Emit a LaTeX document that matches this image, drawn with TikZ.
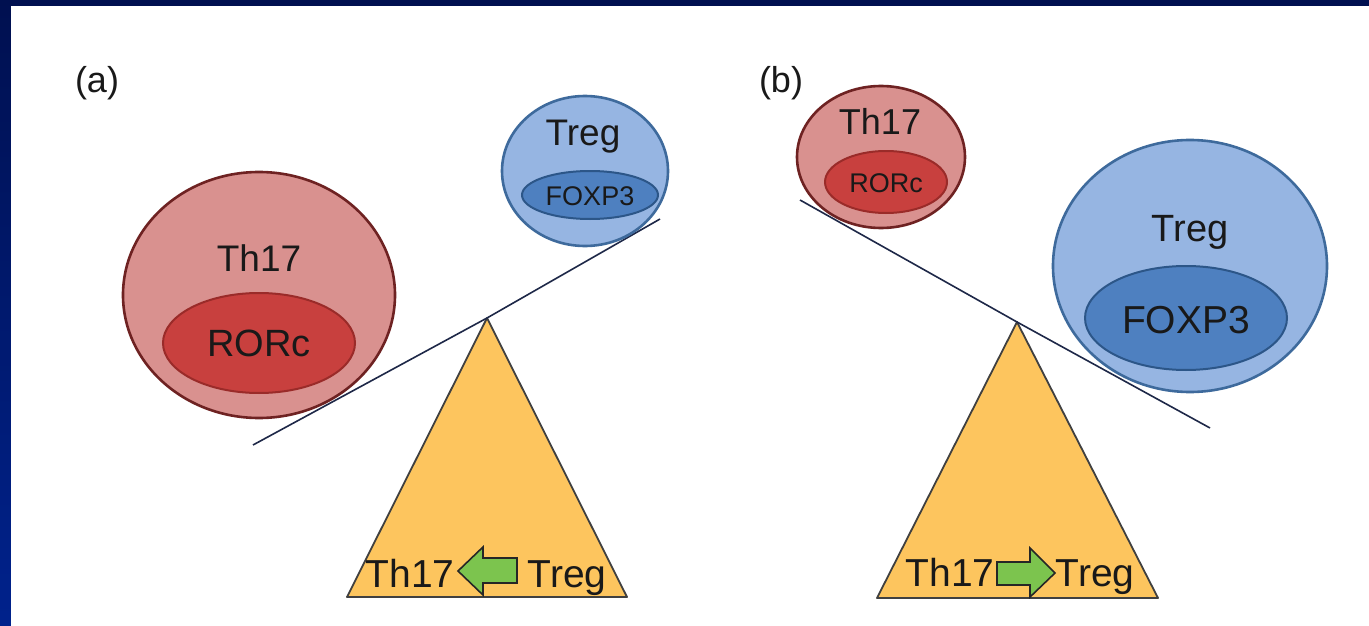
\documentclass[tikz,border=0pt]{standalone}
\usepackage{fontspec}
\setmainfont{Liberation Sans}
\usetikzlibrary{shapes.geometric}
\definecolor{navytop}{HTML}{001050}
\definecolor{navybot}{HTML}{00228C}
\definecolor{thout}{HTML}{D9918F}
\definecolor{thoutb}{HTML}{6E2222}
\definecolor{thin}{HTML}{C8403E}
\definecolor{thinb}{HTML}{9A2B29}
\definecolor{trout}{HTML}{96B5E2}
\definecolor{troutb}{HTML}{3E6A9C}
\definecolor{trin}{HTML}{4E80C0}
\definecolor{trinb}{HTML}{2C5688}
\definecolor{tri}{HTML}{FDC55E}
\definecolor{arrg}{HTML}{7CC44E}
\definecolor{beam}{HTML}{1E2848}
\tikzset{
  x=1pt, y=-1pt,
  cellTh/.style={ellipse, draw=thoutb, fill=thout, line width=2.6pt, inner sep=0pt},
  coreTh/.style={ellipse, draw=thinb, fill=thin, line width=2pt, inner sep=0pt},
  cellTr/.style={ellipse, draw=troutb, fill=trout, line width=2.6pt, inner sep=0pt},
  coreTr/.style={ellipse, draw=trinb, fill=trin, line width=2pt, inner sep=0pt},
  fulcrum/.style={draw=black!75, fill=tri, line width=1.8pt, line join=round},
  beamline/.style={draw=beam, line width=1.6pt},
  greenarrow/.style={draw=black!85, fill=arrg, line width=1.6pt, line join=miter},
  lbl/.style={inner sep=0pt, text=black!90},
}
\begin{document}
\begin{tikzpicture}
\shade[top color=navytop, bottom color=navybot] (0,0) rectangle (1369,626);
\fill[white] (11,6) rectangle (1369,626);
\useasboundingbox (0,0) rectangle (1369,626);

% ---------- panel (a)
\node[lbl, font=\fontsize{36}{36}\selectfont] (la) at (97,83) {(a)};
\coordinate (apa) at (487,318);
\draw[fulcrum] (apa) -- (627,597) -- (347,597) -- cycle;
\coordinate (ba1) at (253,445);
\coordinate (ba2) at (660,219);
\draw[beamline] (ba1) -- (apa) -- (ba2);
\node[cellTh, minimum width=272pt, minimum height=246pt] (tha) at (259,295) {};
\node[coreTh, minimum width=192pt, minimum height=100pt] (ra) at (259,343) {};
\node[lbl, font=\fontsize{37}{37}\selectfont] (tha-t) at (259,258) {Th17};
\node[lbl, font=\fontsize{38}{38}\selectfont] (ra-t) at (259,343) {RORc};
\node[cellTr, minimum width=166pt, minimum height=150pt] (tra) at (585,171) {};
\node[coreTr, minimum width=136pt, minimum height=48pt] (fa) at (590,195) {};
\node[lbl, font=\fontsize{37}{37}\selectfont] (tra-t) at (583,137) {Treg};
\node[lbl, font=\fontsize{27}{27}\selectfont] (fa-t) at (590,196) {FOXP3};
\node[lbl, anchor=base, font=\fontsize{39}{39}\selectfont] (bta) at (410,587) {Th17};
\node[lbl, anchor=base, font=\fontsize{39}{39}\selectfont] (bra) at (567,587) {Treg};
\draw[greenarrow] (458,571) -- (483,547) -- (483,558) -- (517,558) -- (517,583) -- (483,583) -- (483,595) -- cycle;

% ---------- panel (b)
\node[lbl, font=\fontsize{36}{36}\selectfont] (lb) at (781,83) {(b)};
\coordinate (apb) at (1017,322);
\draw[fulcrum] (apb) -- (1158,598) -- (877,598) -- cycle;
\coordinate (bb1) at (800,200);
\coordinate (bb2) at (1210,428);
\draw[beamline] (bb1) -- (apb) -- (bb2);
\node[cellTh, minimum width=168pt, minimum height=142pt] (thb) at (881,157) {};
\node[coreTh, minimum width=122pt, minimum height=62pt] (rb) at (886,182) {};
\node[lbl, font=\fontsize{36}{36}\selectfont] (thb-t) at (880,121) {Th17};
\node[lbl, font=\fontsize{27}{27}\selectfont] (rb-t) at (886,183) {RORc};
\node[cellTr, minimum width=274pt, minimum height=252pt] (trb) at (1190,266) {};
\node[coreTr, minimum width=202pt, minimum height=104pt] (fb) at (1186,318) {};
\node[lbl, font=\fontsize{38}{38}\selectfont] (trb-t) at (1190,232) {Treg};
\node[lbl, font=\fontsize{39}{39}\selectfont] (fb-t) at (1186,320) {FOXP3};
\node[lbl, anchor=base, font=\fontsize{39}{39}\selectfont] (btb) at (950,586) {Th17};
\node[lbl, anchor=base, font=\fontsize{39}{39}\selectfont] (brb) at (1095,586) {Treg};
\draw[greenarrow] (1055,573) -- (1030,548) -- (1030,562) -- (997,562) -- (997,585) -- (1030,585) -- (1030,597) -- cycle;
\end{tikzpicture}
\end{document}
